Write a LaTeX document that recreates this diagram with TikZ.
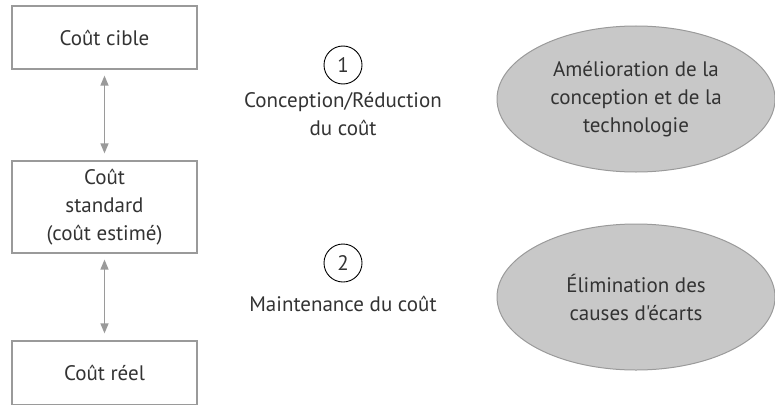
\documentclass[tikz,border=0pt]{standalone}
\usepackage{fontspec}
\setmainfont{PT Sans}[Ligatures=TeXOff]
\usetikzlibrary{positioning,arrows.meta,shapes.geometric}
\definecolor{ink}{HTML}{333333}
\definecolor{edge}{HTML}{9A9A9A}
\definecolor{blobfill}{HTML}{C8C8C8}

\begin{document}
\begin{tikzpicture}[
    x=1pt, y=-1pt,
    txt/.style  = {font=\fontsize{21}{28}\selectfont, text=ink, align=center},
    box/.style  = {draw=edge, line width=1.2pt, minimum width=185pt,
                   inner sep=0pt, txt},
    num/.style  = {draw=black, circle, line width=0.9pt, minimum size=38pt,
                   inner sep=0pt, txt},
    blob/.style = {ellipse, draw=edge, fill=blobfill, line width=1pt,
                   minimum width=278pt, minimum height=146pt, inner sep=0pt, txt},
    arr/.style  = {{Triangle[length=10pt,width=8pt]}-{Triangle[length=10pt,width=8pt]},
                   draw=edge, line width=1.3pt, shorten <=6pt, shorten >=7pt},
]
\useasboundingbox (0,0) rectangle (775,404);
\clip (0,0) rectangle (775,404);

% --- cost levels ---
\node[box, minimum height=63pt] (cible) at (104.5,37.5) {Coût cible};
\node[box, minimum height=92pt] (std) at (104.5,207)
    {Coût\\standard\\(coût estimé)};
\node[box, minimum height=64pt] (reel) at (104.5,373) {Coût réel};

% --- arrows between levels ---
\draw[arr] (cible) -- (std);
\draw[arr] (std) -- (reel);

% --- numbered steps ---
\node[num] (un) at (343,65) {1};
\node[txt, below=4pt of un] (conc) {Conception/Réduction\\du coût};
\node[num] (deux) at (343,263) {2};
\node[txt, below=10pt of deux] (maint) {Maintenance du coût};

% --- actions ---
\node[blob] (amel) at (636,99)
    {Amélioration de la\\conception et de la\\technologie};
\node[blob] (elim) at (636,297)
    {Élimination des\\causes d'écarts};

\end{tikzpicture}
\end{document}
